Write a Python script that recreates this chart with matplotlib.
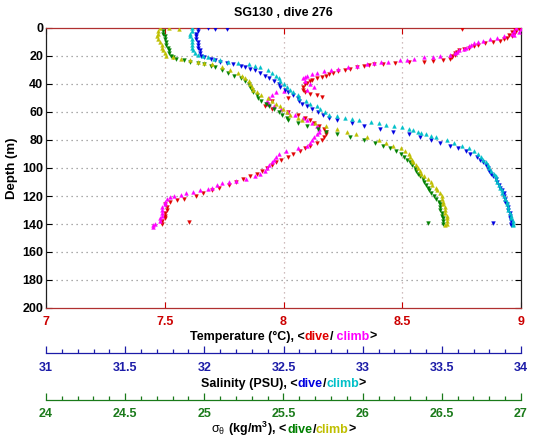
import matplotlib
matplotlib.use("Agg")
import matplotlib.pyplot as plt
from matplotlib.ticker import FormatStrFormatter

plt.rcParams['font.family'] = ['Liberation Sans', 'DejaVu Sans']
plt.rcParams['font.weight'] = 'bold'
plt.rcParams['mathtext.fontset'] = 'dejavusans'
plt.rcParams['mathtext.default'] = 'regular'

title = "SG130 , dive 276"

# ---------------- Temperature, dive (red) ----------------
depth_temp_dive = [0, 0.4, 1, 2, 3, 4, 5, 6, 7, 8, 9, 10, 11, 12, 13, 14, 15, 16, 17, 18, 19, 20, 21, 22, 23,
                   23.5, 24, 24.5, 25, 25.5, 26, 26.5, 27, 28, 29, 30, 31, 32, 33, 34, 35, 36, 37, 38, 39, 40,
                   42, 44, 46, 47, 48, 49, 50, 52, 54, 56, 58, 60, 62, 64, 66, 68, 70, 72, 74, 76, 78, 80,
                   82, 84, 86, 88, 90, 92, 94, 96, 98, 100, 102, 104, 106, 108, 110, 112, 114, 116, 118, 120,
                   122, 123, 124, 126, 128, 130, 132, 134, 136, 138, 138.5, 140]
temp_dive = [8.97, 8.75, 8.99, 8.98, 8.96, 8.97, 8.95, 8.96, 8.94, 8.93, 8.91, 8.88, 8.85, 8.82, 8.80, 8.78,
             8.76, 8.74, 8.73, 8.72, 8.72, 8.71, 8.71, 8.70, 8.67, 8.63, 8.59, 8.53, 8.47, 8.42, 8.38, 8.36,
             8.34, 8.31, 8.28, 8.26, 8.23, 8.21, 8.19, 8.18, 8.16, 8.14, 8.12, 8.11, 8.10, 8.09, 8.08, 8.08,
             8.09, 8.11, 8.14, 8.16, 8.02, 7.95, 7.93, 7.92, 7.95, 8.02, 8.06, 8.09, 8.11, 8.13, 8.15, 8.17,
             8.18, 8.18, 8.17, 8.16, 8.14, 8.11, 8.09, 8.07, 8.04, 8.02, 7.99, 7.97, 7.95, 7.93, 7.91, 7.89,
             7.86, 7.83, 7.80, 7.77, 7.73, 7.70, 7.66, 7.63, 7.58, 7.55, 7.52, 7.50, 7.51, 7.51, 7.50, 7.50,
             7.50, 7.49, 7.60, 7.49]

# ---------------- Temperature, climb (magenta) ----------------
depth_temp_climb = [0, 1, 2, 3, 4, 5, 6, 7, 8, 9, 10, 11, 12, 13, 14, 15, 16, 17, 18, 19, 20, 20.5, 21, 22,
                    22.5, 23, 24, 24.5, 25, 26, 27, 28, 29, 30, 31, 32, 33, 34, 35, 36, 38, 40, 42, 44, 45,
                    46, 48, 50, 52, 54, 56, 58, 60, 62, 64, 66, 68, 70, 72, 74, 76, 78, 80, 82, 84, 86, 88,
                    90, 92, 94, 96, 98, 100, 102, 104, 106, 108, 109, 110, 111, 112, 114, 115, 116, 117, 118,
                    119, 120, 121, 122, 124, 126, 128, 130, 132, 134, 136, 138, 140, 141, 142]
temp_climb = [8.98, 9.00, 8.97, 8.99, 8.96, 8.97, 8.93, 8.90, 8.87, 8.84, 8.82, 8.80, 8.79, 8.78, 8.77, 8.76,
              8.74, 8.73, 8.72, 8.70, 8.66, 8.63, 8.59, 8.55, 8.52, 8.49, 8.44, 8.41, 8.38, 8.35, 8.31, 8.27,
              8.23, 8.20, 8.17, 8.14, 8.12, 8.10, 8.09, 8.08, 8.09, 8.11, 8.13, 8.10, 8.00, 7.97, 7.95, 7.94,
              7.93, 7.94, 7.96, 7.99, 8.02, 8.05, 8.08, 8.10, 8.12, 8.14, 8.15, 8.15, 8.14, 8.13, 8.12, 8.11,
              8.10, 8.06, 8.01, 7.98, 7.97, 7.96, 7.95, 7.94, 7.93, 7.92, 7.90, 7.88, 7.84, 7.80, 7.77, 7.74,
              7.72, 7.70, 7.68, 7.65, 7.62, 7.59, 7.57, 7.54, 7.52, 7.51, 7.50, 7.50, 7.49, 7.49, 7.49, 7.49,
              7.48, 7.48, 7.46, 7.45, 7.45]

# ---------------- Salinity, dive (blue) ----------------
depth_sal_dive = [0, 0.3, 0.5, 0.8, 2, 4, 6, 8, 10, 12, 14, 16, 18, 20, 21, 22, 23, 24, 25, 26, 27, 28, 29, 30,
                  32, 34, 36, 38, 40, 42, 44, 46, 48, 50, 52, 54, 56, 58, 60, 62, 64, 66, 68, 70, 72, 74, 76,
                  78, 80, 82, 84, 86, 88, 90, 92, 94, 96, 98, 100, 102, 104, 106, 108, 110, 112, 114, 116,
                  118, 120, 122, 124, 126, 128, 130, 132, 134, 136, 138, 139, 140, 141]
sal_dive = [31.96, 32.02, 32.14, 32.07, 31.96, 31.95, 31.95, 31.95, 31.96, 31.96, 31.96, 31.97, 31.97, 31.98,
            32.00, 32.04, 32.07, 32.10, 32.14, 32.18, 32.23, 32.26, 32.29, 32.32, 32.35, 32.38, 32.41, 32.44,
            32.47, 32.48, 32.51, 32.53, 32.56, 32.59, 32.60, 32.62, 32.65, 32.68, 32.72, 32.75, 32.79, 32.84,
            32.93, 33.01, 33.11, 33.19, 33.29, 33.36, 33.43, 33.49, 33.55, 33.60, 33.65, 33.68, 33.72, 33.74,
            33.76, 33.78, 33.79, 33.80, 33.81, 33.82, 33.84, 33.85, 33.86, 33.87, 33.88, 33.89, 33.89, 33.90,
            33.90, 33.91, 33.92, 33.92, 33.93, 33.93, 33.93, 33.94, 33.82, 33.94, 33.94]

# ---------------- Salinity, climb (cyan) ----------------
depth_sal_climb = [0, 2, 4, 6, 8, 10, 12, 14, 16, 18, 19, 20, 21, 22, 23, 24, 25, 26, 27, 28, 30, 32, 34, 36,
                   38, 40, 42, 44, 46, 48, 50, 52, 54, 56, 58, 60, 62, 63, 64, 65, 66, 67, 68, 69, 70, 71, 72,
                   73, 74, 75, 76, 77, 78, 80, 82, 84, 86, 88, 90, 92, 94, 96, 98, 100, 102, 104, 106, 108,
                   110, 112, 114, 116, 118, 120, 122, 124, 126, 128, 130, 132, 134, 136, 138, 140, 141]
sal_climb = [31.92, 31.92, 31.91, 31.91, 31.92, 31.92, 31.92, 31.92, 31.93, 31.94, 31.96, 31.99, 32.02, 32.06,
             32.10, 32.15, 32.21, 32.28, 32.32, 32.35, 32.40, 32.43, 32.45, 32.47, 32.48, 32.50, 32.52, 32.54,
             32.56, 32.59, 32.60, 32.64, 32.67, 32.71, 32.73, 32.76, 32.79, 32.84, 32.89, 32.93, 32.98, 33.05,
             33.10, 33.15, 33.20, 33.25, 33.29, 33.32, 33.35, 33.37, 33.40, 33.43, 33.46, 33.53, 33.58, 33.63,
             33.67, 33.70, 33.73, 33.75, 33.76, 33.78, 33.79, 33.80, 33.81, 33.83, 33.84, 33.84, 33.85, 33.86,
             33.87, 33.88, 33.88, 33.89, 33.90, 33.91, 33.91, 33.92, 33.92, 33.93, 33.94, 33.94, 33.95, 33.95,
             33.95]

# ---------------- Density, dive (green) ----------------
depth_dens_dive = [2, 4, 6, 8, 10, 12, 14, 16, 18, 20, 21, 22, 23, 24, 25, 26, 27, 28, 30, 32, 34, 36, 38, 40,
                   42, 44, 46, 48, 50, 52, 54, 56, 58, 60, 62, 64, 66, 68, 70, 72, 74, 76, 78, 80, 82, 84, 86,
                   88, 90, 92, 94, 96, 98, 100, 102, 104, 106, 108, 110, 112, 114, 116, 118, 120, 122, 124,
                   126, 128, 130, 132, 134, 136, 138, 139, 140]
dens_dive = [24.74, 24.74, 24.75, 24.75, 24.76, 24.76, 24.77, 24.78, 24.78, 24.79, 24.80, 24.82, 24.87, 24.91,
             24.96, 25.00, 25.04, 25.07, 25.11, 25.15, 25.19, 25.23, 25.26, 25.28, 25.29, 25.30, 25.31, 25.33,
             25.34, 25.36, 25.39, 25.41, 25.44, 25.47, 25.49, 25.52, 25.53, 25.59, 25.65, 25.72, 25.77, 25.84,
             25.92, 26.01, 26.08, 26.13, 26.17, 26.21, 26.24, 26.26, 26.28, 26.30, 26.31, 26.33, 26.34, 26.35,
             26.36, 26.38, 26.39, 26.40, 26.41, 26.42, 26.43, 26.45, 26.46, 26.48, 26.49, 26.49, 26.49, 26.50,
             26.50, 26.51, 26.51, 26.41, 26.51]

# ---------------- Density, climb (yellow) ----------------
depth_dens_climb = [0, 0.3, 0.6, 2, 4, 6, 8, 10, 12, 14, 16, 18, 20, 21, 22, 23, 24, 25, 26, 28, 30, 32, 34, 36,
                    38, 40, 42, 44, 46, 48, 50, 52, 54, 56, 58, 60, 62, 64, 66, 68, 70, 72, 74, 76, 78, 80, 82,
                    84, 86, 88, 90, 92, 94, 96, 98, 100, 102, 104, 106, 108, 110, 112, 114, 116, 118, 120, 122,
                    124, 126, 128, 130, 132, 134, 136, 138, 140, 141]
dens_climb = [24.72, 24.78, 24.84, 24.71, 24.71, 24.70, 24.71, 24.72, 24.73, 24.73, 24.74, 24.75, 24.76, 24.80,
              24.85, 24.91, 24.96, 25.00, 25.05, 25.11, 25.16, 25.21, 25.24, 25.26, 25.28, 25.29, 25.30, 25.31,
              25.33, 25.36, 25.40, 25.43, 25.45, 25.48, 25.50, 25.52, 25.54, 25.59, 25.62, 25.70, 25.77, 25.84,
              25.90, 25.96, 26.03, 26.10, 26.15, 26.19, 26.24, 26.27, 26.29, 26.30, 26.31, 26.32, 26.34, 26.35,
              26.36, 26.37, 26.39, 26.41, 26.43, 26.44, 26.46, 26.47, 26.49, 26.50, 26.50, 26.51, 26.51, 26.52,
              26.52, 26.52, 26.53, 26.53, 26.53, 26.53, 26.52]

temp_ticks = [7, 7.5, 8, 8.5, 9]
sal_ticks = [31, 31.5, 32, 32.5, 33, 33.5, 34]
dens_ticks = [24, 24.5, 25, 25.5, 26, 26.5, 27]
depth_ticks = list(range(0, 201, 20))

# ---------------- styling ----------------
RED = '#e00000'
MAG = '#ff00ff'
BLUE = '#0000e0'
CYAN = '#00c0c8'
GREEN = '#008000'
YEL = '#bfbf00'
TRED = '#cc0000'
TBLUE = '#1c1ca8'
TGREEN = '#1a7a1a'
FS = 9
fmt = FormatStrFormatter('%g')

fig = plt.figure(figsize=(5.35, 4.42), dpi=100)
W, H = 535.0, 442.0
L, R, T, B = 46 / W, 521 / W, 1 - 28 / H, 1 - 308 / H
pos = [L, B, R - L, T - B]

ax = fig.add_axes(pos)
ax.set_xlim(7, 9)
ax.set_ylim(200, 0)
ax.set_xticks(temp_ticks)
ax.set_yticks(depth_ticks)
ax.xaxis.set_major_formatter(fmt)
ax.tick_params(axis='both', direction='in', length=4, width=0.8, labelsize=FS)
ax.tick_params(axis='x', colors=TRED, pad=6, top=True)
ax.tick_params(axis='y', right=True, pad=2)
for lab in ax.get_xticklabels() + ax.get_yticklabels():
    lab.set_fontweight('bold')
ax.spines['top'].set_color('#b03030')
ax.spines['bottom'].set_color('#b03030')
ax.spines['left'].set_color('#202020')
ax.spines['right'].set_color('#202020')
for sp in ax.spines.values():
    sp.set_linewidth(0.9)
for xv in temp_ticks[1:-1]:
    ax.axvline(xv, color='#c0a8a8', lw=0.9, ls=(0, (1, 3)), zorder=0)
for yv in depth_ticks[1:-1]:
    ax.axhline(yv, color='#909090', lw=0.9, ls=(0, (1, 3)), zorder=0)
ax.set_ylabel('Depth (m)', fontsize=FS + 0.5, fontweight='bold', labelpad=3)
ax.set_title(title, fontsize=FS, fontweight='bold', pad=9)

ms = 2.7
ax.plot(temp_dive, depth_temp_dive, ls='none', marker='v', ms=ms, color=RED, mew=0.3, zorder=3)
ax.plot(temp_climb, depth_temp_climb, ls='none', marker='^', ms=ms, color=MAG, mew=0.3, zorder=3)

ax_s = fig.add_axes(pos, frameon=False, sharey=ax)
ax_s.set_xlim(31, 34)
ax_s.plot(sal_dive, depth_sal_dive, ls='none', marker='v', ms=ms, color=BLUE, mew=0.3, zorder=3)
ax_s.plot(sal_climb, depth_sal_climb, ls='none', marker='^', ms=ms, color=CYAN, mew=0.3, zorder=3)
ax_s.axis('off')

ax_d = fig.add_axes(pos, frameon=False, sharey=ax)
ax_d.set_xlim(24, 27)
ax_d.plot(dens_dive, depth_dens_dive, ls='none', marker='v', ms=ms, color=GREEN, mew=0.3, zorder=3)
ax_d.plot(dens_climb, depth_dens_climb, ls='none', marker='^', ms=ms, color=YEL, mew=0.3, zorder=3)
ax_d.axis('off')


def tick_axis(ybase, lims, ticks, color, pad):
    a = fig.add_axes([L, 1 - ybase / H, R - L, 0.0001])
    a.set_xlim(*lims)
    a.set_yticks([])
    for s in ['top', 'left', 'right']:
        a.spines[s].set_visible(False)
    a.spines['bottom'].set_color(color)
    a.spines['bottom'].set_linewidth(0.9)
    a.set_xticks(ticks)
    a.xaxis.set_major_formatter(fmt)
    minors = [lims[0] + 0.1 * i for i in range(int(round((lims[1] - lims[0]) / 0.1)) + 1)]
    a.set_xticks(minors, minor=True)
    a.tick_params(axis='x', which='major', direction='in', length=5, width=0.9, colors=color,
                  labelsize=FS, pad=pad)
    a.tick_params(axis='x', which='minor', direction='in', length=3, width=0.9, colors=color)
    for lab in a.get_xticklabels():
        lab.set_fontweight('bold')
    a.patch.set_visible(False)
    return a


tick_axis(353, (31, 34), sal_ticks, TBLUE, 6.5)
tick_axis(400, (24, 27), dens_ticks, TGREEN, 5.5)

renderer = fig.canvas.get_renderer()


def color_label(xc, yc, pieces):
    items = []
    total = 0.0
    for s, c, wgt in pieces:
        t = fig.text(0, 1 - yc / H, s, color=c, fontsize=FS, fontweight=wgt, va='baseline', ha='left')
        w = t.get_window_extent(renderer).width
        items.append((t, w))
        total += w
    x = xc - total / 2
    for t, w in items:
        t.set_x(x / W)
        x += w


xc = (46 + 521) / 2
color_label(xc, 340, [('Temperature (°C), <', 'black', 'bold'), ('dive', RED, 'bold'), ('/', 'black', 'bold'),
                      (' climb', MAG, 'bold'), ('>', 'black', 'bold')])
color_label(xc, 387, [('Salinity (PSU), <', 'black', 'bold'), ('dive', BLUE, 'bold'), ('/', 'black', 'bold'),
                      ('climb', CYAN, 'bold'), ('>', 'black', 'bold')])
color_label(xc, 433, [(r'$\sigma_\theta$', 'black', 'normal'), (' (kg/m$^3$), <', 'black', 'bold'),
                      ('dive', GREEN, 'bold'), ('/', 'black', 'bold'), ('climb', YEL, 'bold'),
                      ('>', 'black', 'bold')])

fig.savefig('out.png', dpi=100)
